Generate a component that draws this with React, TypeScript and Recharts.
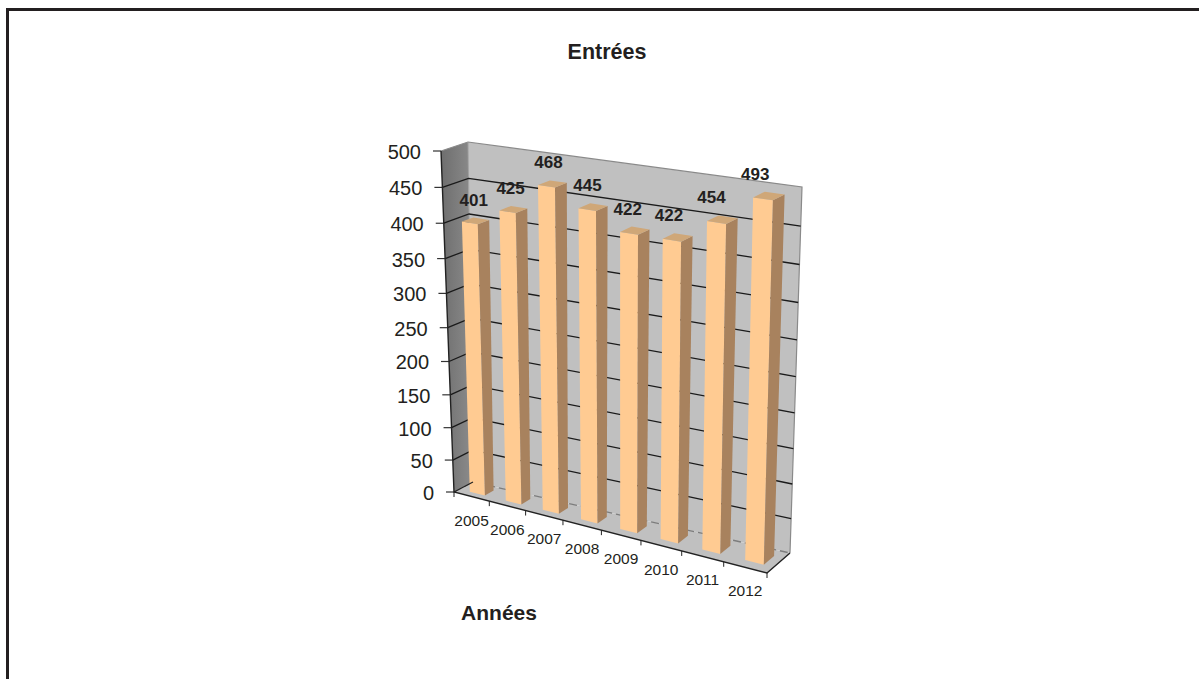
import React from "react";
import { BarChart, Bar, XAxis, YAxis, CartesianGrid, LabelList } from "recharts";

const years = ["2005", "2006", "2007", "2008", "2009", "2010", "2011", "2012"];
const entrees = [401, 425, 468, 445, 422, 422, 454, 493];
const yTicks = [0, 50, 100, 150, 200, 250, 300, 350, 400, 450, 500];
const chartTitle = "Entrées";
const axisTitle = "Années";

const data = years.map((year, i) => ({ year, value: entrees[i] }));

const PL = 100, PT = 100, PW = 1000, PH = 500;
const FONT = "'Liberation Sans', Arial, sans-serif";
const INK = "#231f20";

// cube corners on screen: F = front plane, B = back wall
const FLB = [454, 492], FRB = [767, 573], FLT = [441, 151], FRT = [776, 200];
const BLB = [473, 482], BRB = [790, 553], BLT = [468, 142], BRT = [802, 187];

const warp = (t: number, a: number) => (a * t) / (1 + (a - 1) * t);
const mix = (p: number[], q: number[], t: number) => [p[0] + (q[0] - p[0]) * t, p[1] + (q[1] - p[1]) * t];

function proj(u: number, v: number, w: number) {
  const uu = warp(u, 0.89), vv = warp(v, 0.93);
  const fb = mix(FLB, FRB, uu), ft = mix(FLT, FRT, uu), bb = mix(BLB, BRB, uu), bt = mix(BLT, BRT, uu);
  return mix(mix(fb, ft, vv), mix(bb, bt, vv), w);
}
const U = (x: number) => (x - PL) / PW;
const V = (y: number) => (PT + PH - y) / PH;
const pts = (list: number[][]) => list.map((p) => `${p[0].toFixed(1)},${p[1].toFixed(1)}`).join(" ");

const W_FRONT = 0.29, W_BACK = 0.74;

function Walls() {
  return (
    <g>
      <defs>
        <linearGradient id="sideWall" x1="0" y1="0" x2="1" y2="0">
          <stop offset="0" stopColor="#6e6e6e" />
          <stop offset="1" stopColor="#8c8c8c" />
        </linearGradient>
      </defs>
      <polygon points={pts([proj(0, 0, 0), proj(0, 1, 0), proj(0, 1, 1), proj(0, 0, 1)])} fill="url(#sideWall)" />
      <polygon points={pts([proj(0, 0, 1), proj(0, 1, 1), proj(1, 1, 1), proj(1, 0, 1)])} fill="#c0c0c0" />
      <polygon points={pts([proj(0, 0, 0), proj(0, 0, 1), proj(1, 0, 1), proj(1, 0, 0)])} fill="#c0c0c0" />
      <polyline points={pts([proj(0, 1, 0), proj(0, 1, 1), proj(1, 1, 1), proj(1, 0, 1)])} fill="none" stroke="#8a8a8a" strokeWidth={1.2} />
      <line x1={proj(0, 0, 1)[0]} y1={proj(0, 0, 1)[1]} x2={proj(0, 1, 1)[0]} y2={proj(0, 1, 1)[1]} stroke="#a0a0a0" strokeWidth={1} />
    </g>
  );
}

function GridLine(props: any) {
  const v = V(props.y1);
  const a = proj(0, v, 0), b = proj(0, v, 1), c = proj(1, v, 1);
  const isZero = v < 0.001;
  const isTop = v > 0.999;
  return (
    <g key={props.key}>
      {props.index === 0 ? <Walls /> : null}
      {isTop ? null : (
        <polyline
          points={pts([a, b, c])}
          fill="none"
          stroke={isZero ? "#7d7d7d" : "#1a1a1a"}
          strokeDasharray={isZero ? "8 4" : undefined}
          strokeWidth={1.3}
        />
      )}
    </g>
  );
}

function BarShape(props: any) {
  const { x, y, width, height } = props;
  const shift = (u: number) => u + 0.008 * u;
  const u0 = shift(U(x)), u1 = shift(U(x + width)), vt = V(y), vb = V(y + height);
  const wf = W_FRONT, wb = W_BACK;
  return (
    <g>
      <polygon points={pts([proj(u0, vb, wf), proj(u0, vt, wf), proj(u1, vt, wf), proj(u1, vb, wf)])} fill="#ffcb92" />
      <polygon points={pts([proj(u1, vb, wf), proj(u1, vt, wf), proj(u1, vt, wb), proj(u1, vb, wb)])} fill="#a8825e" />
      <polygon points={pts([proj(u0, vt, wf), proj(u0, vt, wb), proj(u1, vt, wb), proj(u1, vt, wf)])} fill="#cfa778" />
    </g>
  );
}

function ValueLabel(props: any) {
  const { x, y, width, value } = props;
  const u = U(x + width / 2);
  const xp = proj(u, 0, 0)[0] + 1.5 + 9 * u;
  const p = proj(u, V(y), W_BACK);
  return (
    <text x={xp} y={p[1] - 13} textAnchor="middle" fontFamily={FONT} fontSize={17} fontWeight={700} fill={INK}>
      {value}
    </text>
  );
}

function YTick(props: any) {
  const { y, payload } = props;
  const p = proj(0, V(y), 0);
  return (
    <g>
      <line x1={p[0] - 8} y1={p[1]} x2={p[0]} y2={p[1]} stroke="#333" strokeWidth={1.2} />
      <text x={p[0] - 20} y={p[1] + 8} textAnchor="end" fontFamily={FONT} fontSize={20} fill={INK}>
        {payload.value}
      </text>
    </g>
  );
}

function XTick(props: any) {
  const { x, payload, index } = props;
  const band = PW / years.length;
  const c = proj(U(x), 0, 0);
  const r = proj(U(x + band / 2), 0, 0);
  const l = proj(U(x - band / 2), 0, 0);
  return (
    <g>
      {index === 0 ? <line x1={l[0]} y1={l[1]} x2={l[0]} y2={l[1] + 5} stroke="#222" /> : null}
      <line x1={r[0]} y1={r[1]} x2={r[0]} y2={r[1] + 5} stroke="#222" />
      <text x={c[0]} y={c[1] + 29} textAnchor="middle" fontFamily={FONT} fontSize={15.5} fill={INK}>
        {payload.value}
      </text>
    </g>
  );
}

export default function App() {
  return (
    <div style={{ position: "absolute", left: 0, top: 0, width: 1199, height: 679, background: "#fff", overflow: "hidden" }}>
      <div style={{ position: "absolute", left: 6, top: 8, width: 1199, height: 700, borderLeft: "3px solid #231f20", borderTop: "3px solid #231f20" }} />
      <div style={{ position: "absolute", left: 507, width: 200, top: 40, textAlign: "center", fontFamily: FONT, fontWeight: 700, fontSize: 21.5, color: INK }}>
        {chartTitle}
      </div>
      <div style={{ position: "absolute", left: 399, width: 200, top: 601, textAlign: "center", fontFamily: FONT, fontWeight: 700, fontSize: 21, color: INK }}>
        {axisTitle}
      </div>
      <div style={{ position: "absolute", left: 0, top: 0 }}>
        <BarChart width={1199} height={679} data={data} margin={{ top: PT, right: 1199 - PL - PW, bottom: 679 - PT - PH - 30, left: PL - 40 }} barCategoryGap="29%">
          <CartesianGrid horizontal={GridLine as any} vertical={false} />
          <XAxis dataKey="year" height={30} axisLine={false} tickLine={false} interval={0} tick={XTick as any} />
          <YAxis width={40} domain={[0, 500]} ticks={yTicks} axisLine={false} tickLine={false} interval={0} tick={YTick as any} />
          <Bar dataKey="value" isAnimationActive={false} shape={BarShape as any}>
            <LabelList dataKey="value" content={ValueLabel as any} />
          </Bar>
        </BarChart>
      </div>
      <svg width={1199} height={679} style={{ position: "absolute", left: 0, top: 0, pointerEvents: "none" }}>
        <polyline points={pts([proj(0, 1, 0), proj(0, 0, 0), proj(1, 0, 0), proj(1, 0, 1)])} fill="none" stroke="#222" strokeWidth={1.4} />
        <line x1={proj(0, 0, 0)[0]} y1={proj(0, 0, 0)[1]} x2={proj(0, 0, 1)[0]} y2={proj(0, 0, 1)[1]} stroke="#222" strokeWidth={1.2} />
      </svg>
    </div>
  );
}
